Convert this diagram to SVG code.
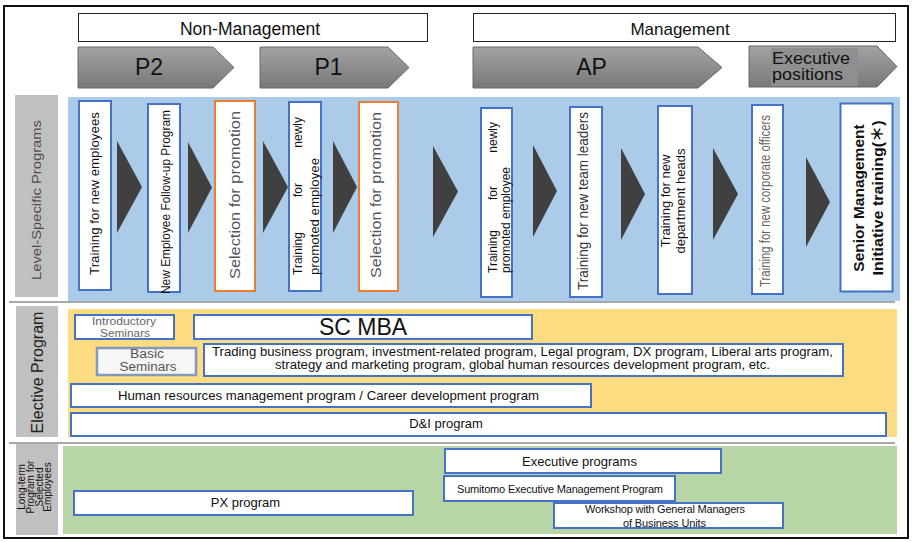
<svg xmlns="http://www.w3.org/2000/svg" width="914" height="542" viewBox="0 0 914 542">
<defs>
<linearGradient id="chev" x1="0" y1="0" x2="0" y2="1"><stop offset="0" stop-color="#a3a3a3"/><stop offset="1" stop-color="#787878"/></linearGradient>
</defs>
<style>
text{font-family:"Liberation Sans",Arial,"Noto Sans CJK JP",sans-serif;fill:#111}
.hdr{fill:#fff;stroke:#222;stroke-width:1}
.chev{fill:url(#chev);stroke:#6a6a6a;stroke-width:1}
.box{fill:#fff;stroke:#4472c4;stroke-width:2}
.obox{fill:#fff;stroke:#ed7d31;stroke-width:2}
.lbl{fill:#c0c0c0}
.tri{fill:#404040}
.sep{stroke:#8c8c8c;stroke-width:1.5}
.c{text-anchor:middle}
</style>
<rect x="0" y="0" width="914" height="542" fill="#fff"/>
<rect x="4" y="6" width="904" height="532" fill="none" stroke="#111" stroke-width="2"/>

<!-- header -->
<g id="non-management">
<rect class="hdr" x="78.5" y="13.5" width="349" height="28"/>
<text class="c" x="250" y="35" font-size="17.5">Non-Management</text>
</g>
<g id="management">
<rect class="hdr" x="473.5" y="13.5" width="422" height="28"/>
<text class="c" x="680" y="35" font-size="17">Management</text>
</g>
<g id="p2">
<polygon class="chev" points="78,47 213,47 234,67.5 213,88 78,88"/>
<text class="c" x="149" y="75" font-size="23">P2</text>
</g>
<g id="p1">
<polygon class="chev" points="260,47 388,47 409,67.5 388,88 260,88"/>
<text class="c" x="328.5" y="75" font-size="23">P1</text>
</g>
<g id="ap">
<polygon class="chev" points="473,47 698,47 722,67.5 698,88 473,88"/>
<text class="c" x="591.5" y="75" font-size="23">AP</text>
</g>
<g id="executive-positions">
<polygon class="chev" points="749,46 877,46 897,66.5 877,87 749,87"/>
<rect x="771" y="48" width="87" height="38" fill="#8f8f8f"/>
<text x="772" y="64" font-size="16" textLength="78" lengthAdjust="spacingAndGlyphs">Executive</text>
<text x="772" y="79.5" font-size="16" textLength="71" lengthAdjust="spacingAndGlyphs">positions</text>
</g>

<!-- row separators -->
<line class="sep" x1="9" y1="302" x2="895" y2="302"/>
<line class="sep" x1="9" y1="443" x2="895" y2="443"/>

<!-- Level-specific row -->
<g id="level-specific-label">
<rect class="lbl" x="15" y="95" width="43" height="202"/>
<text class="c" transform="translate(41,200) rotate(-90)" font-size="12.5" textLength="160" lengthAdjust="spacingAndGlyphs" style="fill:#4d4d4d">Level-Specific Programs</text>
</g>
<rect id="level-specific-panel" x="68" y="97" width="832" height="204" fill="#accbe9"/>

<g id="training-new-employees">
<rect class="box" x="79" y="101" width="32" height="189"/>
<text class="c" transform="translate(99,193.5) rotate(-90)" font-size="13" textLength="163" lengthAdjust="spacingAndGlyphs">Training for new employees</text>
</g>
<g id="new-employee-follow-up">
<rect class="box" x="148" y="104" width="32" height="188"/>
<text class="c" transform="translate(170,202) rotate(-90)" font-size="12" textLength="184" lengthAdjust="spacingAndGlyphs">New Employee Follow-up Program</text>
</g>
<g id="selection-1">
<rect class="obox" x="215" y="101" width="40" height="190"/>
<text class="c" transform="translate(240,195) rotate(-90)" font-size="15" textLength="168" lengthAdjust="spacingAndGlyphs" style="fill:#555">Selection for promotion</text>
</g>
<g id="training-promoted-p1">
<rect class="box" x="289" y="102" width="32" height="189"/>
<g transform="translate(302,0) rotate(-90)" font-size="12">
<text x="-275">Training</text>
<text class="c" x="-190">for</text>
<text x="-117" style="text-anchor:end">newly</text>
</g>
<text transform="translate(319,0) rotate(-90)" x="-275" font-size="12" textLength="117" lengthAdjust="spacingAndGlyphs">promoted employee</text>
</g>
<g id="selection-2">
<rect class="obox" x="359" y="102" width="39" height="189"/>
<text class="c" transform="translate(381,195) rotate(-90)" font-size="15" textLength="166" lengthAdjust="spacingAndGlyphs" style="fill:#555">Selection for promotion</text>
</g>
<g id="training-promoted-ap">
<rect class="box" x="481" y="108" width="31" height="189"/>
<g transform="translate(497,0) rotate(-90)" font-size="12">
<text x="-273">Training</text>
<text class="c" x="-193">for</text>
<text x="-122" style="text-anchor:end">newly</text>
</g>
<text transform="translate(510,0) rotate(-90)" x="-273" font-size="12" textLength="106" lengthAdjust="spacingAndGlyphs">promoted employee</text>
</g>
<g id="training-team-leaders">
<rect class="box" x="570" y="107" width="32" height="190"/>
<text class="c" transform="translate(588,201) rotate(-90)" font-size="15" textLength="178" lengthAdjust="spacingAndGlyphs" style="fill:#333">Training for new team leaders</text>
</g>
<g id="training-department-heads">
<rect class="box" x="658" y="106" width="34" height="188" stroke-width="2.5"/>
<text class="c" transform="translate(670,201) rotate(-90)" font-size="13">Training for new</text>
<text class="c" transform="translate(685,201) rotate(-90)" font-size="13">department heads</text>
</g>
<g id="training-corporate-officers">
<rect class="box" x="752" y="105" width="31" height="189"/>
<text class="c" transform="translate(770,201) rotate(-90)" font-size="14" textLength="172" lengthAdjust="spacingAndGlyphs" style="fill:#666">Training for new corporate officers</text>
</g>
<g id="senior-management">
<rect class="box" x="840.5" y="103.5" width="52" height="188" stroke-width="3"/>
<text class="c" transform="translate(864,198) rotate(-90)" font-size="15.5" font-weight="bold">Senior Management</text>
<text class="c" transform="translate(883,198) rotate(-90)" font-size="15.5" font-weight="bold" textLength="155" lengthAdjust="spacingAndGlyphs">Initiative training(＊)</text>
</g>

<g id="connectors">
<polygon class="tri" points="117,141 142,187 117,233"/>
<polygon class="tri" points="188,142 212,187.5 188,233"/>
<polygon class="tri" points="263,141 288,187 263,233"/>
<polygon class="tri" points="333,141 357,187 333,233"/>
<polygon class="tri" points="433,146 458,191.5 433,237"/>
<polygon class="tri" points="533,145 557,191 533,237"/>
<polygon class="tri" points="621,148 645,194 621,240"/>
<polygon class="tri" points="713,148 738,194 713,240"/>
<polygon class="tri" points="806,157 830,202 806,247"/>
</g>

<!-- Elective row -->
<g id="elective-label">
<rect class="lbl" x="16" y="306" width="42" height="131"/>
<text class="c" transform="translate(43,372.5) rotate(-90)" font-size="16" style="fill:#222">Elective Program</text>
</g>
<rect id="elective-panel" x="68" y="309" width="829" height="128" fill="#fedc82"/>
<g id="introductory-seminars">
<rect class="box" x="75" y="315" width="99" height="24"/>
<text class="c" x="124" y="325" font-size="11" textLength="64" lengthAdjust="spacingAndGlyphs" style="fill:#666">Introductory</text>
<text class="c" x="125" y="337" font-size="11" textLength="50" lengthAdjust="spacingAndGlyphs" style="fill:#666">Seminars</text>
</g>
<g id="sc-mba">
<rect class="box" x="194" y="315" width="338" height="24"/>
<text class="c" x="363" y="335" font-size="23">SC MBA</text>
</g>
<g id="basic-seminars">
<rect x="97" y="348" width="99" height="27" fill="#f6f6f6" stroke="#8398ba" stroke-width="2.5"/>
<text class="c" x="147" y="358" font-size="12" textLength="34" lengthAdjust="spacingAndGlyphs" style="fill:#555">Basic</text>
<text class="c" x="148" y="371" font-size="12" textLength="57" lengthAdjust="spacingAndGlyphs" style="fill:#555">Seminars</text>
</g>
<g id="trading-programs">
<rect class="box" x="204" y="344" width="639" height="32"/>
<text class="c" x="522.5" y="355.5" font-size="12" textLength="621" lengthAdjust="spacingAndGlyphs">Trading business program, investment-related program, Legal program, DX program, Liberal arts program,</text>
<text class="c" x="522.5" y="368.5" font-size="12" textLength="495" lengthAdjust="spacingAndGlyphs">strategy and marketing program, global human resources development program, etc.</text>
</g>
<g id="hr-program">
<rect class="box" x="71" y="384" width="520" height="23"/>
<text class="c" x="328.5" y="400" font-size="13" textLength="421" lengthAdjust="spacingAndGlyphs">Human resources management program / Career development program</text>
</g>
<g id="di-program">
<rect class="box" x="71" y="413" width="815" height="23"/>
<text class="c" x="446" y="428" font-size="13">D&amp;I program</text>
</g>

<!-- Long-term row -->
<g id="long-term-label">
<rect class="lbl" x="16" y="444" width="42" height="91"/>
<g transform="translate(0,487) rotate(-90)" font-size="10" style="fill:#222">
<text class="c" y="25">Long-term</text>
<text class="c" y="33.5">Program for</text>
<text class="c" y="42.5">Selected</text>
<text class="c" y="51">Employees</text>
</g>
</g>
<rect id="long-term-panel" x="63" y="446" width="834" height="88" fill="#b8d6a5"/>
<g id="px-program">
<rect class="box" x="74" y="491" width="339" height="24"/>
<text class="c" x="245.5" y="507" font-size="13">PX program</text>
</g>
<g id="executive-programs">
<rect class="box" x="445" y="449" width="276" height="24"/>
<text class="c" x="579.5" y="466" font-size="13">Executive programs</text>
</g>
<g id="sumitomo-executive">
<rect class="box" x="444" y="476" width="231" height="25"/>
<text class="c" x="560" y="493" font-size="11" textLength="206" lengthAdjust="spacing">Sumitomo Executive Management Program</text>
</g>
<g id="workshop-gm">
<rect class="box" x="554" y="503" width="229" height="25"/>
<text class="c" x="665" y="513" font-size="11" textLength="160" lengthAdjust="spacing">Workshop with General Managers</text>
<text class="c" x="664.5" y="527" font-size="11" textLength="83" lengthAdjust="spacing">of Business Units</text>
</g>
</svg>
